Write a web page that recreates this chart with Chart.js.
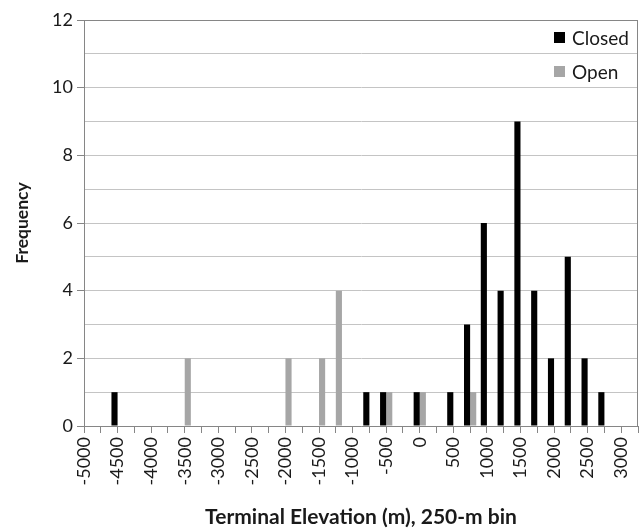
<!DOCTYPE html>
<html>
<head>
<meta charset="utf-8">
<script src="https://cdn.jsdelivr.net/npm/chart.js@4.4.0/dist/chart.umd.min.js"></script>
<style>
  html, body { margin: 0; padding: 0; background: #ffffff; }
  #wrap { width: 643px; height: 531px; position: relative; }
</style>
</head>
<body>
<div id="wrap"><canvas id="c" width="643" height="531"></canvas></div>
<script>
// 250-m bins (category axis); labels are shown every 500 m
const binLabels = [-5000, -4750, -4500, -4250, -4000, -3750, -3500, -3250, -3000, -2750,
                   -2500, -2250, -2000, -1750, -1500, -1250, -1000, -750, -500, -250,
                   0, 250, 500, 750, 1000, 1250, 1500, 1750, 2000, 2250,
                   2500, 2750, 3000, 3250];
const closedCounts = [0, 0, 1, 0, 0, 0, 0, 0, 0, 0,
                      0, 0, 0, 0, 0, 0, 0, 1, 1, 0,
                      1, 0, 1, 3, 6, 4, 9, 4, 2, 5,
                      2, 1, 0, 0];
const openCounts   = [0, 0, 0, 0, 0, 0, 2, 0, 0, 0,
                      0, 0, 2, 0, 2, 4, 0, 0, 1, 0,
                      1, 0, 0, 1, 0, 0, 0, 0, 0, 0,
                      0, 0, 0, 0];
const seriesNames = ['Closed', 'Open'];
const seriesColors = ['#000000', '#a6a6a6'];
const yTicks = [0, 2, 4, 6, 8, 10, 12];
const xTitle = 'Terminal Elevation (m), 250-m bin';
const yTitle = 'Frequency';

const FONT = 'Lato, "Open Sans", sans-serif';
const AXIS_COL = '#868686';
const GRID_COL = '#c4c4c4';
const TEXT_COL = '#1a1a1a';

const insideLegend = {
  id: 'insideLegend',
  afterDraw(chart) {
    const ctx = chart.ctx;
    const a = chart.chartArea;
    ctx.save();
    ctx.font = '19px ' + FONT;
    ctx.textBaseline = 'middle';
    ctx.textAlign = 'left';
    chart.data.datasets.forEach((ds, i) => {
      const cy = a.top + 17.5 + i * 34;
      const bx = a.right - 84;
      ctx.fillStyle = ds.backgroundColor;
      ctx.fillRect(bx, cy - 5.5, 11, 11);
      ctx.fillStyle = TEXT_COL;
      ctx.fillText(ds.label, bx + 18, cy + 1);
    });
    ctx.restore();
  }
};

const frameBorder = {
  id: 'frameBorder',
  afterDatasetsDraw(chart) {
    const ctx = chart.ctx;
    const a = chart.chartArea;
    ctx.save();
    ctx.strokeStyle = AXIS_COL;
    ctx.lineWidth = 1;
    ctx.beginPath();
    ctx.moveTo(a.left, Math.round(a.top) + 0.5);
    ctx.lineTo(Math.round(a.right) - 0.5, Math.round(a.top) + 0.5);
    ctx.lineTo(Math.round(a.right) - 0.5, a.bottom);
    ctx.stroke();
    ctx.restore();
  }
};

new Chart(document.getElementById('c'), {
  type: 'bar',
  data: {
    labels: binLabels,
    datasets: [
      { label: seriesNames[0], data: closedCounts, backgroundColor: seriesColors[0],
        categoryPercentage: 0.73, barPercentage: 1.0 },
      { label: seriesNames[1], data: openCounts, backgroundColor: seriesColors[1],
        categoryPercentage: 0.73, barPercentage: 1.0 }
    ]
  },
  options: {
    responsive: false,
    animation: false,
    devicePixelRatio: 1,
    layout: { padding: { top: 20, right: 5, left: 0, bottom: 0 } },
    plugins: { legend: { display: false }, tooltip: { enabled: false } },
    scales: {
      x: {
        type: 'category',
        offset: false,
        grid: {
          offset: false,
          drawOnChartArea: false,
          drawTicks: true,
          tickLength: 7,
          color: AXIS_COL
        },
        border: { display: true, color: AXIS_COL, width: 1 },
        ticks: {
          autoSkip: false,
          maxRotation: 90,
          minRotation: 90,
          padding: 4,
          color: TEXT_COL,
          font: { family: FONT, size: 18 },
          callback: function (val, idx) {
            const v = binLabels[idx];
            return (idx % 2 === 0 && v <= 3000) ? String(v) : '';
          }
        },
        title: {
          display: true,
          text: xTitle,
          color: TEXT_COL,
          font: { family: FONT, size: 21, weight: 'bold' },
          padding: { top: 4, bottom: 1.5 }
        },
        afterFit: function (s) { s.height = 105; s.paddingLeft = 0; s.paddingRight = 0; }
      },
      y: {
        min: 0,
        max: 12,
        grid: {
          color: function (c) { return c.tick && c.tick.value === 12 ? AXIS_COL : GRID_COL; },
          tickColor: function (c) { return c.tick && yTicks.includes(c.tick.value) ? AXIS_COL : 'rgba(0,0,0,0)'; },
          tickLength: 7,
          lineWidth: 1
        },
        border: { display: true, color: AXIS_COL, width: 1 },
        ticks: {
          stepSize: 1,
          padding: 4,
          color: TEXT_COL,
          font: { family: FONT, size: 18 },
          callback: function (v) { return yTicks.includes(v) ? String(v) : ''; }
        },
        title: {
          display: true,
          text: yTitle,
          color: TEXT_COL,
          font: { family: FONT, size: 17.5, weight: 'bold' },
          padding: { top: 12, bottom: 4 }
        },
        afterFit: function (s) { s.width = 84; }
      }
    }
  },
  plugins: [insideLegend, frameBorder]
});
</script>
</body>
</html>
